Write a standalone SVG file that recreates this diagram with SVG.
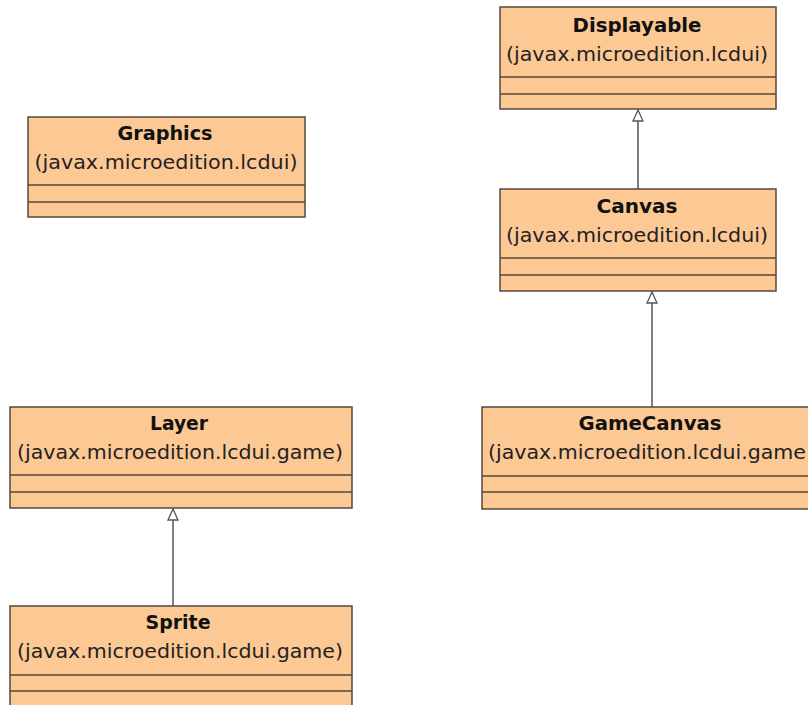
<svg xmlns="http://www.w3.org/2000/svg" width="808" height="705" viewBox="0 0 808 705">
<style>
.box{fill:#FCC894;stroke:#55483c;stroke-width:1.5}
.sep{stroke:#55483c;stroke-width:1.5}
.t{font-family:"DejaVu Sans","Liberation Sans",sans-serif;font-weight:bold;font-size:19px;fill:#111;text-anchor:middle}
.p{font-family:"DejaVu Sans","Liberation Sans",sans-serif;font-size:19px;fill:#222;text-anchor:middle}
.c{stroke:#555;stroke-width:1.5;fill:none}
.h{fill:#fff;stroke:#555;stroke-width:1.3}
</style>
<rect width="808" height="705" fill="#fff"/>
<g id="connectors">
<path class="c" d="M638,190 L638,110"/>
<path class="h" d="M633,121 L638,110 L643,121 Z"/>
<path class="c" d="M652,407 L652,292"/>
<path class="h" d="M647,303 L652,292 L657,303 Z"/>
<path class="c" d="M173,606 L173,509"/>
<path class="h" d="M168,520 L173,509 L178,520 Z"/>
</g>
<g id="Displayable">
<rect class="box" x="500" y="7" width="276" height="102"/>
<line class="sep" x1="500" y1="77" x2="776" y2="77"/>
<line class="sep" x1="500" y1="94" x2="776" y2="94"/>
<text class="t" x="637" y="32" textLength="129" lengthAdjust="spacingAndGlyphs">Displayable</text>
<text class="p" x="637" y="61" textLength="262" lengthAdjust="spacingAndGlyphs">(javax.microedition.lcdui)</text>
</g>
<g id="Graphics">
<rect class="box" x="28" y="117" width="277" height="100"/>
<line class="sep" x1="28" y1="185" x2="305" y2="185"/>
<line class="sep" x1="28" y1="202" x2="305" y2="202"/>
<text class="t" x="165" y="140" textLength="95" lengthAdjust="spacingAndGlyphs">Graphics</text>
<text class="p" x="166" y="169" textLength="263" lengthAdjust="spacingAndGlyphs">(javax.microedition.lcdui)</text>
</g>
<g id="Canvas">
<rect class="box" x="500" y="189" width="276" height="102"/>
<line class="sep" x1="500" y1="258" x2="776" y2="258"/>
<line class="sep" x1="500" y1="275" x2="776" y2="275"/>
<text class="t" x="637" y="213" textLength="81" lengthAdjust="spacingAndGlyphs">Canvas</text>
<text class="p" x="637" y="242" textLength="262" lengthAdjust="spacingAndGlyphs">(javax.microedition.lcdui)</text>
</g>
<g id="Layer">
<rect class="box" x="10" y="407" width="342" height="101"/>
<line class="sep" x1="10" y1="475" x2="352" y2="475"/>
<line class="sep" x1="10" y1="492" x2="352" y2="492"/>
<text class="t" x="179" y="430" textLength="58" lengthAdjust="spacingAndGlyphs">Layer</text>
<text class="p" x="180" y="459" textLength="326" lengthAdjust="spacingAndGlyphs">(javax.microedition.lcdui.game)</text>
</g>
<g id="GameCanvas">
<rect class="box" x="482" y="407" width="340" height="102"/>
<line class="sep" x1="482" y1="476" x2="822" y2="476"/>
<line class="sep" x1="482" y1="492" x2="822" y2="492"/>
<text class="t" x="650" y="430" textLength="143" lengthAdjust="spacingAndGlyphs">GameCanvas</text>
<text class="p" x="651" y="459" textLength="326" lengthAdjust="spacingAndGlyphs">(javax.microedition.lcdui.game)</text>
</g>
<g id="Sprite">
<rect class="box" x="10" y="606" width="342" height="102"/>
<line class="sep" x1="10" y1="675" x2="352" y2="675"/>
<line class="sep" x1="10" y1="691" x2="352" y2="691"/>
<text class="t" x="178" y="629" textLength="65" lengthAdjust="spacingAndGlyphs">Sprite</text>
<text class="p" x="180" y="658" textLength="326" lengthAdjust="spacingAndGlyphs">(javax.microedition.lcdui.game)</text>
</g>
</svg>
